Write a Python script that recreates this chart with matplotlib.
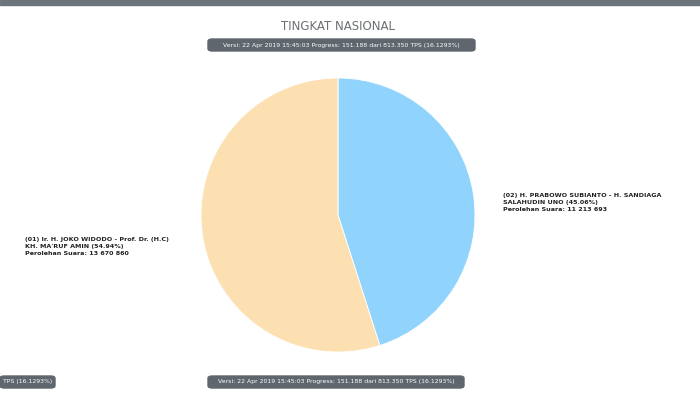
import matplotlib.pyplot as plt
from matplotlib.patches import Rectangle, FancyBboxPatch

# data
candidates = ["(01) Ir. H. JOKO WIDODO - Prof. Dr. (H.C)\nKH. MA'RUF AMIN (54.94%)",
              "(02) H. PRABOWO SUBIANTO - H. SANDIAGA\nSALAHUDIN UNO (45.06%)"]
votes = [13670860, 11213693]
vote_labels = ["13 670 860", "11 213 693"]
colors = ["#fde0b2", "#90d4fd"]
title = "TINGKAT NASIONAL"
badge = "Versi: 22 Apr 2019 15:45:03 Progress: 151.188 dari 813.350 TPS (16.1293%)"

W, H = 700, 393
fig = plt.figure(figsize=(W / 100, H / 100), dpi=100)
fig.patch.set_facecolor("white")

# top grey strip
fig.add_artist(Rectangle((0, 1 - 5 / H), 1, 5 / H, transform=fig.transFigure,
                         color="#6c747c", zorder=0))

# pie placed in pixel coords
cx, cy, r = 338, 215, 137
ax = fig.add_axes([(cx - r) / W, (H - cy - r) / H, 2 * r / W, 2 * r / H])
ax.pie([votes[1], votes[0]], colors=[colors[1], colors[0]], startangle=90,
       counterclock=False, wedgeprops=dict(linewidth=0.6, edgecolor="white"))
ax.set_xlim(-1, 1)
ax.set_ylim(-1, 1)
ax.set_aspect("equal")


def px(x, y):
    return x / W, 1 - y / H


fig.text(*px(338, 26), title, ha="center", va="center", fontsize=8.5,
         color="#6b6f73")


def draw_badge(x0, x1, y, text, ha="center"):
    fig.add_artist(FancyBboxPatch(px(x0, y + 6), (x1 - x0) / W, 12 / H,
                                  boxstyle="round,pad=0,rounding_size=0.006",
                                  transform=fig.transFigure, color="#5f666d", zorder=1))
    tx = (x0 + x1) / 2 if ha == "center" else x0 + 3
    fig.text(*px(tx, y), text, ha=ha, va="center",
             fontsize=4.4, color="white", zorder=2)


draw_badge(208, 475, 45, badge)
draw_badge(208, 464, 382, badge)
draw_badge(0, 55, 382, "TPS (16.1293%)", ha="left")

# labels
fig.text(*px(25, 246), candidates[0] + "\nPerolehan Suara: " + vote_labels[0],
         ha="left", va="center", fontsize=4.6, color="#222222",
         fontweight="bold", linespacing=1.5)
fig.text(*px(503, 202), candidates[1] + "\nPerolehan Suara: " + vote_labels[1],
         ha="left", va="center", fontsize=4.6, color="#222222",
         fontweight="bold", linespacing=1.5)

fig.savefig("out.png", dpi=100, facecolor="white")
